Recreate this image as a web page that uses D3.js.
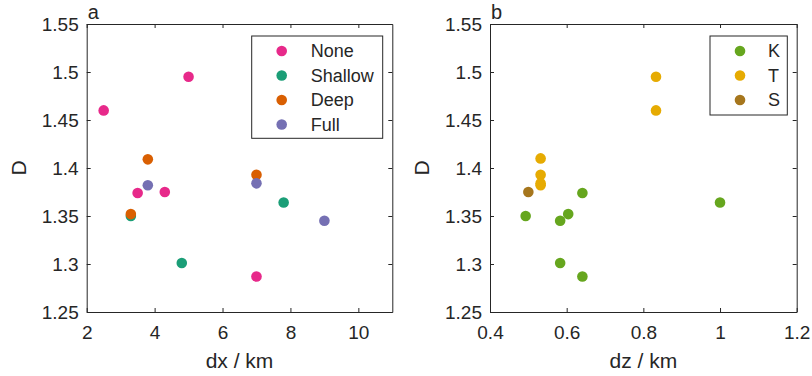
<!DOCTYPE html>
<html>
<head>
<meta charset="utf-8">
<script src="https://cdn.jsdelivr.net/npm/d3@7"></script>
<style>
  body { margin: 0; background: #fff; }
  text { font-family: "Liberation Sans", Arial, sans-serif; fill: #262626; }
  .axis path, .axis line { stroke: #262626; }
</style>
</head>
<body>
<div id="chart"></div>
<script>
// panel a: D vs dx for each forcing case
var noneDx = [2.5, 5.0, 3.5, 4.3, 7.0];
var noneD = [1.46, 1.495, 1.374, 1.375, 1.287];
var shallowDx = [3.3, 4.8, 7.8];
var shallowD = [1.35, 1.301, 1.364];
var deepDx = [3.3, 3.8, 7.0];
var deepD = [1.352, 1.409, 1.393];
var fullDx = [3.8, 7.0, 9.0];
var fullD = [1.382, 1.384, 1.345];

// panel b: D vs dz by type
var kDz = [0.493, 0.583, 0.604, 0.641, 0.583, 0.641, 1.0];
var kD = [1.35, 1.345, 1.352, 1.374, 1.301, 1.287, 1.364];
var tDz = [0.833, 0.833, 0.532, 0.532, 0.532, 0.532];
var tD = [1.495, 1.46, 1.41, 1.393, 1.382, 1.384];
var sDz = [0.5];
var sD = [1.375];

var yTicks = [1.25, 1.3, 1.35, 1.4, 1.45, 1.5, 1.55];
var dxTicks = [2, 4, 6, 8, 10];
var dzTicks = [0.4, 0.6, 0.8, 1, 1.2];

var width = 812, height = 376;
var svg = d3.select('#chart').append('svg')
  .attr('width', width)
  .attr('height', height);

var top_ = 24, bottom = 312;

function zip(xs, ys) {
  return xs.map(function(v, i) { return { x: v, y: ys[i] }; });
}

function panel(opts) {
  var x = d3.scaleLinear().domain(opts.xDomain).range([opts.left, opts.right]);
  var y = d3.scaleLinear().domain([1.25, 1.55]).range([bottom, top_]);
  var g = svg.append('g');

  // bottom axis, ticks inside
  g.append('g')
    .attr('class', 'axis')
    .attr('transform', 'translate(0,' + bottom + ')')
    .call(d3.axisBottom(x).tickValues(opts.xTicks).tickFormat(d3.format('~g'))
      .tickSizeInner(-4).tickSizeOuter(0).tickPadding(14))
    .call(function(s) { s.selectAll('text').attr('font-size', '19px'); });

  // top axis (no labels)
  g.append('g')
    .attr('class', 'axis')
    .attr('transform', 'translate(0,' + top_ + ')')
    .call(d3.axisTop(x).tickValues(opts.xTicks).tickFormat('')
      .tickSizeInner(-4).tickSizeOuter(0));

  // left axis
  g.append('g')
    .attr('class', 'axis')
    .attr('transform', 'translate(' + opts.left + ',0)')
    .call(d3.axisLeft(y).tickValues(yTicks).tickFormat(d3.format('~g'))
      .tickSizeInner(-4).tickSizeOuter(0).tickPadding(8))
    .call(function(s) { s.selectAll('text').attr('font-size', '19px'); });

  // right axis
  g.append('g')
    .attr('class', 'axis')
    .attr('transform', 'translate(' + opts.right + ',0)')
    .call(d3.axisRight(y).tickValues(yTicks).tickFormat('')
      .tickSizeInner(-4).tickSizeOuter(0));

  g.selectAll('.axis').attr('font-family', null);

  // points
  opts.series.forEach(function(s) {
    g.append('g')
      .selectAll('circle')
      .data(zip(s.xs, s.ys))
      .enter()
      .append('circle')
        .attr('cx', function(d) { return x(d.x); })
        .attr('cy', function(d) { return y(d.y); })
        .attr('r', 5.3)
        .style('fill', s.color);
  });

  // axis labels
  g.append('text')
    .attr('transform', 'translate(' + (opts.left - 61) + ',' + y(1.4) + ') rotate(-90)')
    .attr('text-anchor', 'middle')
    .attr('font-size', '21px')
    .text('D');

  g.append('text')
    .attr('x', (opts.left + opts.right) / 2)
    .attr('y', 368)
    .attr('text-anchor', 'middle')
    .attr('font-size', '21px')
    .text(opts.xLabel);

  g.append('text')
    .attr('x', opts.left + 1)
    .attr('y', 19)
    .attr('font-size', '20px')
    .text(opts.tag);

  // legend
  var lg = opts.legend;
  g.append('rect')
    .attr('x', lg.x).attr('y', lg.y)
    .attr('width', lg.w).attr('height', lg.h)
    .style('fill', '#fff')
    .style('stroke', '#262626')
    .style('stroke-width', 1);
  opts.series.forEach(function(s, i) {
    var cy = lg.y + 15 + i * 24.5;
    g.append('circle')
      .attr('cx', lg.x + lg.mx).attr('cy', cy)
      .attr('r', 5.3)
      .style('fill', s.color);
    g.append('text')
      .attr('x', lg.x + lg.tx).attr('y', cy)
      .attr('dy', '0.35em')
      .attr('font-size', '18px')
      .text(s.name);
  });
}

panel({
  left: 86.7, right: 392.3, xDomain: [2, 11], xTicks: dxTicks,
  xLabel: 'dx / km', tag: 'a',
  series: [
    { name: 'None', xs: noneDx, ys: noneD, color: '#e7298a' },
    { name: 'Shallow', xs: shallowDx, ys: shallowD, color: '#1b9e77' },
    { name: 'Deep', xs: deepDx, ys: deepD, color: '#d95f02' },
    { name: 'Full', xs: fullDx, ys: fullD, color: '#7570b3' }
  ],
  legend: { x: 251.7, y: 36, w: 131, h: 102.3, mx: 30, tx: 59 }
});

panel({
  left: 490, right: 796.7, xDomain: [0.4, 1.2], xTicks: dzTicks,
  xLabel: 'dz / km', tag: 'b',
  series: [
    { name: 'K', xs: kDz, ys: kD, color: '#66a61e' },
    { name: 'T', xs: tDz, ys: tD, color: '#e6ab02' },
    { name: 'S', xs: sDz, ys: sD, color: '#a6761d' }
  ],
  legend: { x: 710, y: 36, w: 77.3, h: 79, mx: 30, tx: 58 }
});
</script>
</body>
</html>
